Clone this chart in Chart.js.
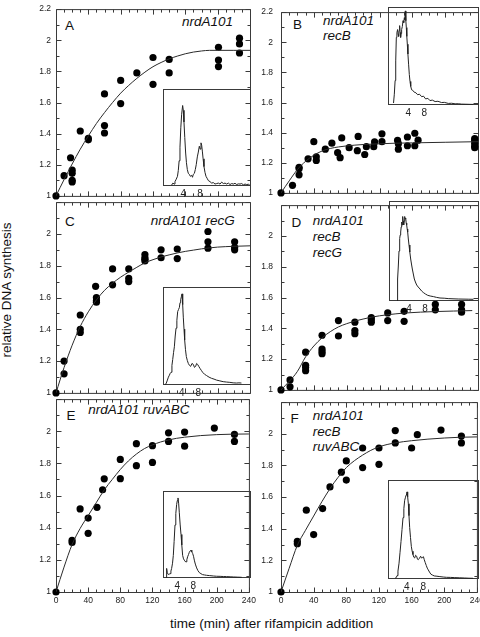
<!DOCTYPE html>
<html>
<head>
<meta charset="utf-8">
<script src="https://cdn.jsdelivr.net/npm/chart.js@4.4.1/dist/chart.umd.min.js"></script>
<style>
  body { margin: 0; width: 480px; height: 637px; position: relative; overflow: hidden; background: #fff;
         font-family: "Liberation Sans", Arial, sans-serif; color: #111; }
  canvas { position: absolute; }
  .lbl { position: absolute; font-size: 13.5px; line-height: 1; white-space: nowrap; }
  .it { font-style: italic; }
</style>
</head>
<body>
<div class="lbl" style="left:65px;top:19px">A</div>
<div class="lbl it" style="left:182px;top:14.6px">nrdA101</div>
<div class="lbl" style="left:293px;top:18px">B</div>
<div class="lbl it" style="left:323px;top:13.6px">nrdA101</div>
<div class="lbl it" style="left:323px;top:29.3px">recB</div>
<div class="lbl" style="left:65px;top:215.3px">C</div>
<div class="lbl it" style="left:150.7px;top:213.6px">nrdA101 recG</div>
<div class="lbl" style="left:291.5px;top:216px">D</div>
<div class="lbl it" style="left:312.7px;top:214.3px">nrdA101</div>
<div class="lbl it" style="left:312.7px;top:230.3px">recB</div>
<div class="lbl it" style="left:312.7px;top:246.3px">recG</div>
<div class="lbl" style="left:66.5px;top:408.6px">E</div>
<div class="lbl it" style="left:88.3px;top:402.9px">nrdA101 ruvABC</div>
<div class="lbl" style="left:290.5px;top:412px">F</div>
<div class="lbl it" style="left:312.7px;top:408.6px">nrdA101</div>
<div class="lbl it" style="left:312.7px;top:424.6px">recB</div>
<div class="lbl it" style="left:312.7px;top:440.3px">ruvABC</div>
<div class="lbl" style="left:6.5px;top:290px;transform:translate(-50%,-50%) rotate(-90deg)">relative DNA synthesis</div>
<div class="lbl" style="left:170px;top:616.6px">time (min) after rifampicin addition</div>

<script>
Chart.defaults.font.family = '"Liberation Sans", Arial, sans-serif';
Chart.defaults.color = '#222';
Chart.defaults.animation = false;
Chart.defaults.responsive = false;
Chart.defaults.events = [];
Chart.defaults.plugins.legend.display = false;
Chart.defaults.plugins.tooltip.enabled = false;

// time after rifampicin (min) and relative DNA synthesis, per strain
const aTime  = [0, 10, 18, 20, 20, 20, 20, 30, 40, 40, 60, 60, 60, 80, 80, 100, 120, 120, 140, 140, 201, 201, 201, 227, 227, 227];
const aSynth = [1.0, 1.13, 1.245, 1.165, 1.145, 1.10, 1.09, 1.417, 1.37, 1.36, 1.655, 1.452, 1.404, 1.742, 1.593, 1.79, 1.889, 1.717, 1.877, 1.79, 1.955, 1.873, 1.831, 2.013, 1.976, 1.918];
const aFitTime = [0, 10, 20, 30, 40, 50, 60, 70, 80, 90, 100, 110, 120, 130, 140, 150, 160, 170, 180, 190, 200, 220, 240];
const aFit     = [1.0, 1.105, 1.205, 1.30, 1.385, 1.465, 1.535, 1.60, 1.66, 1.71, 1.755, 1.795, 1.83, 1.857, 1.88, 1.898, 1.913, 1.924, 1.931, 1.935, 1.935, 1.935, 1.935];

const bTime  = [0, 14, 22, 22, 22, 33, 40, 43, 43, 54, 62, 69, 72, 74, 83, 93, 94, 102, 104, 113, 114, 123, 123, 142, 143, 143, 154, 154, 163, 163, 167, 236, 236, 236, 236, 236];
const bSynth = [1.0, 1.05, 1.17, 1.16, 1.12, 1.226, 1.34, 1.24, 1.215, 1.29, 1.33, 1.267, 1.234, 1.365, 1.30, 1.28, 1.375, 1.255, 1.307, 1.307, 1.338, 1.392, 1.34, 1.348, 1.327, 1.29, 1.313, 1.371, 1.396, 1.313, 1.35, 1.36, 1.35, 1.33, 1.31, 1.30];
const bFitTime = [0, 10, 20, 30, 40, 50, 60, 70, 80, 90, 100, 120, 140, 160, 200, 240];
const bFit     = [1.0, 1.08, 1.155, 1.21, 1.25, 1.278, 1.295, 1.305, 1.312, 1.317, 1.321, 1.326, 1.33, 1.332, 1.336, 1.34];

const cTime  = [0, 10, 10, 30, 30, 30, 49, 50, 50, 50, 70, 70, 90, 90, 90, 110, 110, 110, 110, 130, 130, 150, 150, 188, 188, 188, 221, 221, 221];
const cSynth = [1.0, 1.20, 1.12, 1.49, 1.40, 1.38, 1.67, 1.60, 1.58, 1.57, 1.78, 1.68, 1.78, 1.72, 1.70, 1.87, 1.85, 1.84, 1.83, 1.90, 1.85, 1.905, 1.845, 2.015, 1.95, 1.91, 1.95, 1.915, 1.90];
const cFitTime = [0, 10, 20, 30, 40, 50, 60, 70, 80, 90, 100, 110, 120, 130, 140, 150, 160, 170, 180, 190, 200, 220, 240];
const cFit     = [1.0, 1.16, 1.30, 1.418, 1.51, 1.585, 1.645, 1.69, 1.728, 1.76, 1.79, 1.818, 1.838, 1.855, 1.868, 1.88, 1.89, 1.898, 1.906, 1.912, 1.917, 1.922, 1.925];

const dTime  = [0, 11, 11, 30, 30, 30, 30, 50, 50, 50, 50, 70, 70, 90, 90, 90, 110, 110, 110, 130, 130, 150, 150, 188, 188, 220, 220, 220];
const dSynth = [1.0, 1.065, 1.02, 1.245, 1.16, 1.145, 1.125, 1.355, 1.265, 1.25, 1.235, 1.45, 1.35, 1.44, 1.385, 1.365, 1.47, 1.455, 1.44, 1.50, 1.45, 1.51, 1.445, 1.555, 1.52, 1.555, 1.52, 1.505];
const dFitTime = [0, 10, 20, 30, 40, 50, 60, 70, 80, 90, 100, 110, 120, 130, 140, 150, 170, 190, 210, 233];
const dFit     = [1.0, 1.055, 1.12, 1.215, 1.285, 1.338, 1.378, 1.409, 1.43, 1.447, 1.46, 1.472, 1.481, 1.488, 1.494, 1.499, 1.505, 1.509, 1.512, 1.515];

const eTime  = [0, 20, 20, 30, 40, 40, 51, 58, 60, 80, 80, 100, 100, 120, 120, 140, 140, 160, 160, 197, 222, 222];
const eSynth = [1.0, 1.322, 1.308, 1.517, 1.46, 1.365, 1.527, 1.636, 1.704, 1.825, 1.705, 1.923, 1.786, 1.91, 1.806, 1.99, 1.937, 1.995, 1.907, 2.02, 1.98, 1.937];
const eFitTime = [0, 10, 20, 30, 40, 50, 60, 70, 80, 90, 100, 110, 120, 130, 140, 150, 160, 180, 200, 220, 240];
const eFit     = [1.0, 1.155, 1.295, 1.395, 1.475, 1.555, 1.635, 1.70, 1.762, 1.815, 1.858, 1.892, 1.915, 1.933, 1.946, 1.956, 1.963, 1.973, 1.979, 1.982, 1.983];

const fTime  = [0, 20, 20, 31, 40, 51, 60, 74, 80, 80, 100, 100, 120, 120, 140, 140, 160, 167, 196, 221, 221];
const fSynth = [1.0, 1.32, 1.305, 1.517, 1.363, 1.527, 1.664, 1.757, 1.828, 1.707, 1.91, 1.786, 1.91, 1.807, 2.02, 1.942, 1.91, 1.994, 2.023, 1.985, 1.942];
const fFitTime = [0, 10, 20, 30, 40, 50, 60, 70, 80, 90, 100, 110, 120, 130, 140, 150, 160, 180, 200, 220, 240];
const fFit     = [1.0, 1.15, 1.295, 1.39, 1.48, 1.57, 1.653, 1.725, 1.786, 1.83, 1.865, 1.895, 1.917, 1.932, 1.942, 1.95, 1.956, 1.966, 1.973, 1.978, 1.98];

// flow cytometry insets: DNA content (chromosome equivalents) vs relative cell count
const insetTicks = [4, 8];
const aDna   = [1.2, 1.5, 1.8, 2.0, 2.3, 2.6, 2.8, 3.0, 3.2, 3.4, 3.6, 3.84, 4.0, 4.16, 4.35, 4.56, 4.75, 4.96, 5.2, 5.44, 5.7, 6.0, 6.2, 6.4, 6.65, 6.88, 7.1, 7.36, 7.6, 7.84, 8.05, 8.24, 8.4, 8.56, 8.75, 8.96, 9.2, 9.44, 9.7, 10, 10.4, 10.8, 11.2, 11.6, 12, 12.4, 12.8, 13.2, 13.6, 14, 14.4, 14.8, 15.2, 15.6, 16, 16.4, 16.8, 17.2, 17.6, 18, 18.4, 18.8, 19.2, 19.6, 19.9];
const aCells = [0.01, 0.03, 0.02, 0.045, 0.07, 0.10, 0.16, 0.26, 0.40, 0.60, 0.74, 0.83, 0.78, 0.66, 0.50, 0.34, 0.24, 0.17, 0.13, 0.12, 0.10, 0.11, 0.09, 0.12, 0.13, 0.17, 0.22, 0.30, 0.35, 0.41, 0.38, 0.445, 0.42, 0.36, 0.28, 0.20, 0.14, 0.10, 0.08, 0.056, 0.045, 0.03, 0.035, 0.02, 0.025, 0.03, 0.02, 0.04, 0.025, 0.03, 0.02, 0.03, 0.015, 0.025, 0.02, 0.028, 0.015, 0.022, 0.02, 0.025, 0.012, 0.02, 0.015, 0.018, 0.012];

const bDna   = [0.3, 0.5, 0.7, 0.85, 1.0, 1.15, 1.33, 1.45, 1.58, 1.7, 1.83, 1.95, 2.08, 2.2, 2.33, 2.5, 2.67, 2.85, 3.0, 3.12, 3.25, 3.38, 3.5, 3.62, 3.75, 3.9, 4.08, 4.25, 4.42, 4.6, 4.83, 5.1, 5.5, 5.9, 6.33, 6.8, 7.33, 7.8, 8.33, 8.9, 9.4, 10, 10.7, 11.4, 12.3, 13, 14, 14.8, 15.7, 16.5, 17.3, 18.2, 19.2, 20.2];
const bCells = [0.02, 0.11, 0.25, 0.45, 0.69, 0.74, 0.77, 0.72, 0.70, 0.76, 0.81, 0.74, 0.69, 0.73, 0.77, 0.80, 0.86, 0.84, 0.89, 0.87, 0.96, 0.86, 0.79, 0.70, 0.62, 0.52, 0.41, 0.31, 0.24, 0.19, 0.155, 0.15, 0.13, 0.125, 0.105, 0.11, 0.085, 0.09, 0.062, 0.068, 0.045, 0.05, 0.035, 0.038, 0.025, 0.027, 0.016, 0.018, 0.012, 0.013, 0.009, 0.008, 0.007, 0.006];

const cDna   = [0, 0.3, 0.56, 0.8, 1.04, 1.25, 1.44, 1.65, 1.84, 2.04, 2.24, 2.44, 2.64, 2.84, 3.04, 3.24, 3.44, 3.6, 3.76, 3.92, 4.08, 4.24, 4.4, 4.56, 4.72, 4.92, 5.12, 5.36, 5.6, 5.88, 6.16, 6.48, 6.8, 7.08, 7.36, 7.6, 7.84, 8.12, 8.4, 8.72, 9.04, 9.5, 10, 10.6, 11.2, 11.8, 12.4, 13.2, 14, 14.8, 15.6, 16.4, 17.2, 17.8, 18.4];
const cCells = [0.0, 0.02, 0.05, 0.08, 0.10, 0.12, 0.13, 0.20, 0.26, 0.33, 0.39, 0.50, 0.58, 0.66, 0.75, 0.77, 0.79, 0.84, 0.87, 0.90, 0.93, 0.82, 0.685, 0.57, 0.46, 0.36, 0.29, 0.25, 0.22, 0.20, 0.19, 0.22, 0.21, 0.18, 0.19, 0.22, 0.21, 0.19, 0.17, 0.15, 0.13, 0.11, 0.096, 0.08, 0.068, 0.06, 0.05, 0.042, 0.034, 0.03, 0.027, 0.022, 0.02, 0.022, 0.02];

const dDna   = [1.0, 1.1, 1.2, 1.33, 1.5, 1.67, 1.8, 1.92, 2.05, 2.17, 2.3, 2.42, 2.55, 2.67, 2.8, 2.92, 3.05, 3.17, 3.3, 3.42, 3.55, 3.67, 3.83, 4.0, 4.2, 4.42, 4.62, 4.83, 5.08, 5.33, 5.6, 5.92, 6.3, 6.75, 7.15, 7.58, 8.1, 8.67, 9.3, 10.1, 10.9, 11.75, 12.8, 13.8, 15, 16.3, 17.5, 18.8, 20.1];
const dCells = [0.0, 0.135, 0.22, 0.35, 0.50, 0.625, 0.66, 0.69, 0.74, 0.79, 0.76, 0.845, 0.80, 0.76, 0.80, 0.845, 0.82, 0.83, 0.78, 0.76, 0.72, 0.69, 0.62, 0.56, 0.49, 0.42, 0.37, 0.32, 0.27, 0.22, 0.19, 0.16, 0.14, 0.12, 0.10, 0.085, 0.07, 0.057, 0.05, 0.044, 0.036, 0.03, 0.028, 0.024, 0.022, 0.02, 0.019, 0.018, 0.017];

const eDna   = [1.3, 1.33, 1.5, 1.75, 2.0, 2.17, 2.4, 2.58, 2.8, 3.0, 3.2, 3.42, 3.62, 3.83, 4.0, 4.17, 4.33, 4.5, 4.7, 4.92, 5.12, 5.33, 5.55, 5.75, 5.95, 6.17, 6.38, 6.58, 6.8, 7.0, 7.2, 7.42, 7.62, 7.83, 8.05, 8.25, 8.5, 8.83, 9.15, 9.5, 9.9, 10.3, 10.8, 11.3, 12, 13, 13.8, 14.7, 15.5, 16.3, 17.2, 18, 19, 20.1];
const eCells = [0.0, 0.11, 0.06, 0.04, 0.045, 0.05, 0.08, 0.11, 0.17, 0.26, 0.42, 0.61, 0.74, 0.845, 0.89, 0.92, 0.86, 0.75, 0.62, 0.50, 0.38, 0.26, 0.22, 0.205, 0.19, 0.186, 0.21, 0.244, 0.27, 0.295, 0.31, 0.32, 0.30, 0.283, 0.25, 0.205, 0.16, 0.116, 0.085, 0.062, 0.05, 0.039, 0.035, 0.031, 0.028, 0.023, 0.02, 0.019, 0.017, 0.016, 0.014, 0.012, 0.01, 0.008];

const fDna   = [1.2, 1.5, 1.68, 1.9, 2.16, 2.4, 2.64, 2.88, 3.12, 3.32, 3.52, 3.68, 3.84, 3.96, 4.08, 4.24, 4.4, 4.56, 4.72, 4.92, 5.12, 5.32, 5.52, 5.72, 5.92, 6.16, 6.4, 6.6, 6.8, 7.08, 7.36, 7.6, 7.84, 8.04, 8.24, 8.48, 8.72, 8.96, 9.2, 9.5, 9.84, 10.2, 10.64, 11.3, 12, 12.8, 13.6, 14.6, 15.6, 16.8, 18, 19, 20];
const fCells = [0.007, 0.015, 0.034, 0.08, 0.16, 0.27, 0.38, 0.50, 0.62, 0.71, 0.795, 0.82, 0.846, 0.86, 0.88, 0.83, 0.76, 0.64, 0.52, 0.42, 0.33, 0.28, 0.247, 0.22, 0.212, 0.24, 0.23, 0.2, 0.195, 0.21, 0.23, 0.21, 0.22, 0.225, 0.195, 0.165, 0.137, 0.11, 0.092, 0.07, 0.048, 0.04, 0.031, 0.028, 0.024, 0.02, 0.017, 0.016, 0.014, 0.012, 0.01, 0.008, 0.007];

// layout (page pixels)
const cols = [{ L: 56, R: 250, pad: 5 }, { L: 281, R: 478, pad: 8 }];
const rows = [{ T: 7, B: 200 }, { T: 200, B: 397 }, { T: 397, B: 592 }];

const panels = [
  { col: 0, row: 0, time: aTime, synth: aSynth, fitTime: aFitTime, fit: aFit },
  { col: 1, row: 0, time: bTime, synth: bSynth, fitTime: bFitTime, fit: bFit },
  { col: 0, row: 1, time: cTime, synth: cSynth, fitTime: cFitTime, fit: cFit },
  { col: 1, row: 1, time: dTime, synth: dSynth, fitTime: dFitTime, fit: dFit },
  { col: 0, row: 2, time: eTime, synth: eSynth, fitTime: eFitTime, fit: eFit },
  { col: 1, row: 2, time: fTime, synth: fSynth, fitTime: fFitTime, fit: fFit }
];

const insets = [
  { L: 163, T: 89,  R: 250, B: 185, min: -0.87, max: 20.23, dna: aDna, cells: aCells },
  { L: 388, T: 7,   R: 478, B: 104, min: -1.08, max: 21.67, dna: bDna, cells: bCells },
  { L: 163, T: 287, R: 250, B: 384, min: -0.5,  max: 20.7,  dna: cDna, cells: cCells },
  { L: 389, T: 201, R: 478, B: 300, min: -1.0,  max: 21.5,  dna: dDna, cells: dCells },
  { L: 163, T: 491, R: 250, B: 577, min: 0.42,  max: 22.42, dna: eDna, cells: eCells },
  { L: 388, T: 480, R: 478, B: 578, min: -0.5,  max: 21.43, dna: fDna, cells: fCells }
];

// frame with inward ticks on all four sides
const frameTicks = {
  id: 'frameTicks',
  beforeDatasetsDraw(chart) {
    const { ctx, chartArea: a, scales: { x, y } } = chart;
    const L = a.left + 0.5, R = a.right + 0.5, T = a.top + 0.5, B = a.bottom + 0.5;
    ctx.save();
    ctx.strokeStyle = '#3a3a3a';
    ctx.lineWidth = 1;
    ctx.beginPath();
    ctx.rect(L, T, R - L, B - T);
    for (let v = 0; v <= 240; v += 10) {
      const px = Math.round(x.getPixelForValue(v)) + 0.5;
      const len = v % 40 === 0 ? 5 : 3;
      ctx.moveTo(px, B); ctx.lineTo(px, B - len);
      ctx.moveTo(px, T); ctx.lineTo(px, T + len);
    }
    for (let k = 0; k <= 12; k++) {
      const py = Math.round(y.getPixelForValue(1 + k / 10)) + 0.5;
      const len = k % 2 === 0 ? 5 : 3;
      ctx.moveTo(L, py); ctx.lineTo(L + len, py);
      ctx.moveTo(R, py); ctx.lineTo(R - len, py);
    }
    ctx.stroke();
    ctx.restore();
  }
};

const insetBox = {
  id: 'insetBox',
  beforeDatasetsDraw(chart) {
    const { ctx, chartArea: a } = chart;
    ctx.save();
    ctx.strokeStyle = '#3a3a3a';
    ctx.lineWidth = 1;
    ctx.strokeRect(a.left + 0.5, a.top + 0.5, a.right - a.left - 1, a.bottom - a.top - 1);
    ctx.restore();
  }
};

const noGrid = { display: false, drawTicks: false };

function addCanvas(left, top, w, h) {
  const cv = document.createElement('canvas');
  cv.width = w;
  cv.height = h;
  cv.style.left = left + 'px';
  cv.style.top = top + 'px';
  document.body.appendChild(cv);
  return cv;
}

panels.forEach(p => {
  const c = cols[p.col], r = rows[p.row];
  const first = p.row === 0, last = p.row === 2;
  const cv = addCanvas(c.L - 40, r.T - 8, 40 + c.R - c.L + 10, 8 + r.B - r.T + (last ? 20 : 6));
  new Chart(cv, {
    type: 'scatter',
    data: {
      datasets: [
        {
          data: p.fitTime.map((t, i) => ({ x: t, y: p.fit[i] })),
          showLine: true,
          borderColor: '#2a2a2a',
          borderWidth: 1,
          pointRadius: 0,
          cubicInterpolationMode: 'monotone'
        },
        {
          data: p.time.map((t, i) => ({ x: t, y: p.synth[i] })),
          pointRadius: 3.6,
          backgroundColor: '#000',
          borderWidth: 0,
          clip: false
        }
      ]
    },
    options: {
      layout: { padding: { left: 0, top: 8, right: 10, bottom: last ? 0 : 6 } },
      scales: {
        x: {
          type: 'linear', min: 0, max: 240,
          grid: noGrid, border: { display: false },
          ticks: { display: last, stepSize: 40, padding: 4, autoSkip: false, maxRotation: 0, font: { size: 8.5 } },
          afterFit: s => { s.height = last ? 20 : 0; }
        },
        y: {
          min: 1, max: 2.2,
          grid: noGrid, border: { display: false },
          ticks: {
            stepSize: 0.2, padding: c.pad, font: { size: 8.5 },
            callback: v => (!first && v > 2.1) ? '' : String(+v.toFixed(1))
          },
          afterFit: s => { s.width = 40; }
        }
      }
    },
    plugins: [frameTicks]
  });
});

insets.forEach(n => {
  const cv = addCanvas(n.L, n.T, n.R - n.L + 1, n.B - n.T + 1 + 14);
  new Chart(cv, {
    type: 'scatter',
    data: {
      datasets: [{
        data: n.dna.map((d, i) => ({ x: d, y: n.cells[i] })),
        showLine: true,
        borderColor: '#222',
        borderWidth: 1,
        pointRadius: 0
      }]
    },
    options: {
      layout: { padding: 0 },
      scales: {
        x: {
          type: 'linear', min: n.min, max: n.max,
          grid: noGrid, border: { display: false },
          afterBuildTicks: s => { s.ticks = insetTicks.map(v => ({ value: v })); },
          ticks: { padding: 2, autoSkip: false, maxRotation: 0, font: { size: 10 }, callback: v => String(v) },
          afterFit: s => { s.height = 14; }
        },
        y: { display: false, min: 0, max: 1 }
      }
    },
    plugins: [insetBox]
  });
});
</script>
</body>
</html>
